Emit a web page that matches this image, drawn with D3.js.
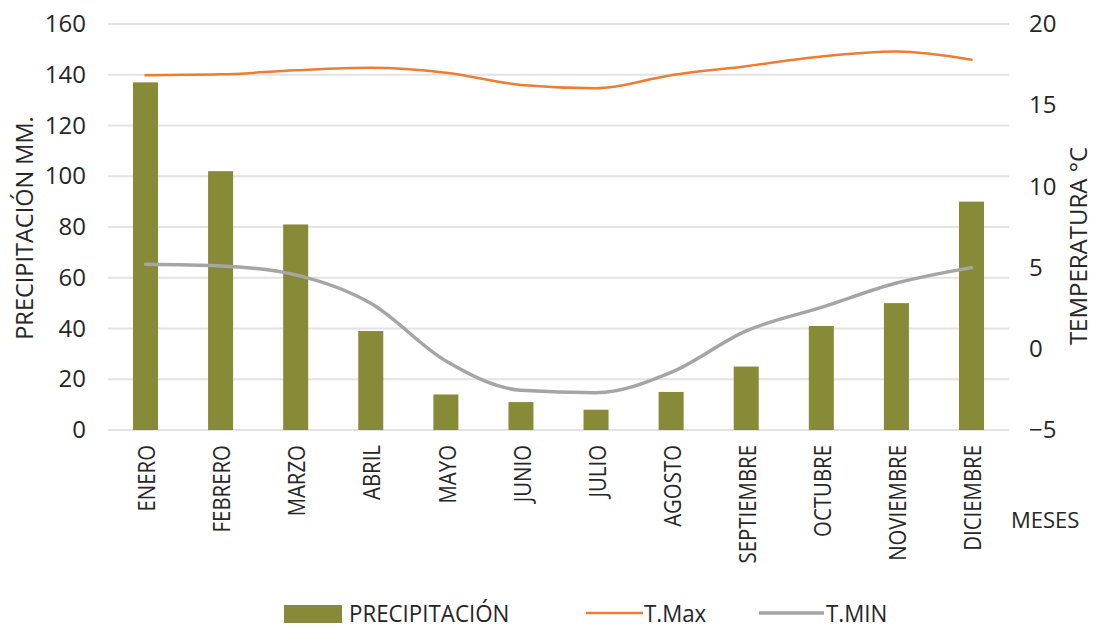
<!DOCTYPE html>
<html>
<head>
<meta charset="utf-8">
<script src="https://cdn.jsdelivr.net/npm/d3@7"></script>
<style>
  body { margin: 0; background: #fff; }
  text { font-family: "Open Sans", "Noto Sans", sans-serif; fill: #262626; }
</style>
</head>
<body>
<script>
const width = 1094;
const height = 630;

// data
const meses = ['ENERO', 'FEBRERO', 'MARZO', 'ABRIL', 'MAYO', 'JUNIO', 'JULIO',
               'AGOSTO', 'SEPTIEMBRE', 'OCTUBRE', 'NOVIEMBRE', 'DICIEMBRE'];
const precipitacion = [137, 102, 81, 39, 14, 11, 8, 15, 25, 41, 50, 90];
const tMax = [16.85, 16.9, 17.15, 17.3, 17.0, 16.25, 16.05, 16.85, 17.4, 18.0, 18.3, 17.8];
const tMin = [5.2, 5.1, 4.55, 2.8, -0.75, -2.55, -2.7, -1.45, 1.1, 2.55, 4.05, 5.0];
const ticksPrecip = [0, 20, 40, 60, 80, 100, 120, 140, 160];
const ticksTemp = [-5, 0, 5, 10, 15, 20];

const plotLeft = 108, plotRight = 1009, plotTop = 24, plotBottom = 430;

const svg = d3.select('body')
              .append('svg')
              .attr('width', width)
              .attr('height', height);

const x = d3.scaleBand()
  .domain(meses)
  .range([plotLeft, plotRight])
  .paddingInner(0.667)
  .paddingOuter(0.333);

const yL = d3.scaleLinear().domain([0, 160]).range([plotBottom, plotTop]);
const yR = d3.scaleLinear().domain([-5, 20]).range([plotBottom, plotTop]);

// gridlines
svg.append('g')
  .selectAll('line')
  .data(ticksPrecip)
  .enter()
  .append('line')
  .attr('x1', plotLeft)
  .attr('x2', plotRight)
  .attr('y1', d => yL(d))
  .attr('y2', d => yL(d))
  .attr('stroke', '#e3e3e3')
  .attr('stroke-width', 2);

// left axis
const axisL = svg.append('g')
  .attr('transform', `translate(${plotLeft - 22},0)`)
  .call(d3.axisLeft(yL).tickValues(ticksPrecip).tickSize(0).tickPadding(0));
axisL.select('.domain').remove();
axisL.selectAll('text')
  .attr('font-size', 24)
  .attr('font-family', '"Open Sans", sans-serif')
  .attr('fill', '#262626');

// right axis
const axisR = svg.append('g')
  .attr('transform', `translate(${plotRight + 20},0)`)
  .call(d3.axisRight(yR).tickValues(ticksTemp).tickSize(0).tickPadding(0));
axisR.select('.domain').remove();
axisR.selectAll('text')
  .attr('font-size', 24)
  .attr('font-family', '"Open Sans", sans-serif')
  .attr('fill', '#262626');

// bars
svg.append('g')
  .selectAll('rect')
  .data(precipitacion)
  .enter()
  .append('rect')
  .attr('x', (d, i) => x(meses[i]))
  .attr('y', d => yL(d))
  .attr('width', x.bandwidth())
  .attr('height', d => yL(0) - yL(d))
  .attr('fill', '#878a36');

// lines
const line = d3.line()
  .x((d, i) => x(meses[i]) + x.bandwidth() / 2)
  .y(d => yR(d))
  .curve(d3.curveMonotoneX);

svg.append('path')
  .attr('d', line(tMax))
  .attr('fill', 'none')
  .attr('stroke', '#ed7d31')
  .attr('stroke-width', 2.5)
  .attr('stroke-linecap', 'round');

svg.append('path')
  .attr('d', line(tMin))
  .attr('fill', 'none')
  .attr('stroke', '#a5a5a5')
  .attr('stroke-width', 3.5)
  .attr('stroke-linecap', 'round');

// month labels (rotated)
svg.append('g')
  .selectAll('text')
  .data(meses)
  .enter()
  .append('text')
  .attr('transform', d => `translate(${x(d) + x.bandwidth() / 2 + 1},445) rotate(-90) scale(0.85,1)`)
  .attr('text-anchor', 'end')
  .attr('dy', '0.36em')
  .attr('font-size', 24)
  .text(d => d);

// axis titles
svg.append('text')
  .attr('transform', `translate(24,228) rotate(-90) scale(0.98,1)`)
  .attr('text-anchor', 'middle')
  .attr('dy', '0.36em')
  .attr('font-size', 24)
  .text('PRECIPITACIÓN MM.');

svg.append('text')
  .attr('transform', `translate(1078,246) rotate(-90) scale(1.0,1)`)
  .attr('text-anchor', 'middle')
  .attr('dy', '0.36em')
  .attr('font-size', 24)
  .text('TEMPERATURA °C');

svg.append('text')
  .attr('x', 1011)
  .attr('y', 528)
  .attr('font-size', 22)
  .text('MESES');

// legend
const legend = svg.append('g');
legend.append('rect')
  .attr('x', 284)
  .attr('y', 605)
  .attr('width', 58)
  .attr('height', 18)
  .attr('fill', '#878a36');
legend.append('text')
  .attr('transform', 'translate(349,622) scale(0.93,1)')
  .attr('font-size', 24)
  .text('PRECIPITACIÓN');

legend.append('line')
  .attr('x1', 586).attr('x2', 643)
  .attr('y1', 613).attr('y2', 613)
  .attr('stroke', '#ed7d31')
  .attr('stroke-width', 2.5);
legend.append('text')
  .attr('transform', 'translate(644,622) scale(0.93,1)')
  .attr('font-size', 24)
  .text('T.Max');

legend.append('line')
  .attr('x1', 759).attr('x2', 824)
  .attr('y1', 613).attr('y2', 613)
  .attr('stroke', '#a5a5a5')
  .attr('stroke-width', 3.5);
legend.append('text')
  .attr('transform', 'translate(826,622) scale(0.93,1)')
  .attr('font-size', 24)
  .text('T.MIN');
</script>
</body>
</html>
